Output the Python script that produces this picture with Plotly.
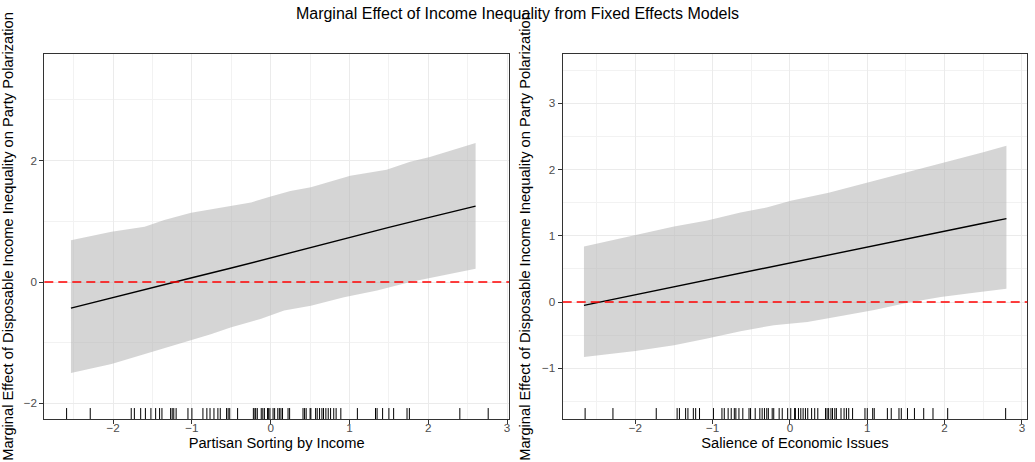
import plotly.graph_objects as go

# ---------------- data ----------------
title_text = "Marginal Effect of Income Inequality from Fixed Effects Models"
y_title = "Marginal Effect of Disposable Income Inequality on Party Polarization"
left_x_title = "Partisan Sorting by Income"
right_x_title = "Salience of Economic Issues"

# Left panel: Partisan Sorting by Income
left_fit_x = [-2.535, -2.0, -1.5, -1.0, -0.5, 0.0, 0.5, 1.0, 1.5, 2.0, 2.6]
left_fit = [-0.43, -0.26, -0.09, 0.07, 0.23, 0.40, 0.57, 0.73, 0.90, 1.06, 1.25]
left_upper_x = [-2.535, -2.02, -1.60, -1.35, -1.01, -0.63, -0.25, 0.0, 0.25,
                0.51, 0.76, 1.01, 1.47, 1.77, 2.02, 2.36, 2.60]
left_upper = [0.69, 0.83, 0.91, 1.02, 1.14, 1.23, 1.31, 1.41, 1.50,
              1.56, 1.65, 1.75, 1.85, 1.98, 2.06, 2.20, 2.29]
left_lower_x = [-2.535, -2.02, -1.60, -1.18, -0.76, -0.51, -0.13, 0.17, 0.51,
                0.93, 1.35, 1.77, 2.19, 2.60]
left_lower = [-1.50, -1.35, -1.19, -1.02, -0.86, -0.75, -0.61, -0.47, -0.39,
              -0.25, -0.14, 0.0, 0.11, 0.22]
left_rug = [-2.59, -2.29, -1.77, -1.73, -1.65, -1.59, -1.52, -1.46, -1.41, -1.38,
            -1.27, -1.25, -1.23, -1.20, -1.05, -1.00, -0.86, -0.81, -0.77, -0.72,
            -0.67, -0.64, -0.56, -0.54, -0.52, -0.42, -0.22, -0.20, -0.19, -0.17,
            -0.12, -0.10, -0.08, -0.04, -0.03, -0.01, 0.03, 0.05, 0.09, 0.11,
            0.13, 0.15, 0.22, 0.24, 0.41, 0.43, 0.45, 0.50, 0.51, 0.57,
            0.59, 0.62, 0.65, 0.67, 0.70, 0.73, 0.76, 0.80, 0.83, 0.89,
            1.10, 1.33, 1.35, 1.42, 1.50, 1.56, 1.73, 1.76, 2.40, 2.76]

# Right panel: Salience of Economic Issues
right_fit_x = [-2.665, -2.0, -1.5, -1.0, -0.5, 0.0, 0.5, 1.0, 1.5, 2.0, 2.5, 2.80]
right_fit = [-0.05, 0.11, 0.23, 0.35, 0.47, 0.60, 0.72, 0.84, 0.96, 1.08, 1.19, 1.26]
right_upper_x = [-2.665, -2.06, -1.50, -1.07, -0.64, -0.29, 0.01, 0.5, 1.0,
                 1.5, 2.0, 2.5, 2.80]
right_upper = [0.84, 0.99, 1.14, 1.23, 1.35, 1.43, 1.53, 1.65, 1.80,
               1.95, 2.10, 2.26, 2.36]
right_lower_x = [-2.665, -2.0, -1.5, -1.07, -0.64, -0.21, 0.225, 0.66, 1.09,
                 1.52, 1.95, 2.38, 2.80]
right_lower = [-0.83, -0.74, -0.65, -0.55, -0.44, -0.35, -0.30, -0.21, -0.12,
               -0.01, 0.075, 0.14, 0.20]
right_rug = [-2.65, -2.29, -1.73, -1.46, -1.43, -1.35, -1.32, -1.25, -1.22, -1.17,
             -0.99, -0.88, -0.85, -0.80, -0.76, -0.72, -0.70, -0.66, -0.61, -0.53,
             -0.51, -0.45, -0.39, -0.36, -0.33, -0.30, -0.28, -0.23, -0.21, -0.14,
             -0.10, -0.03, 0.01, 0.06, 0.07, 0.11, 0.14, 0.17, 0.20, 0.23,
             0.28, 0.32, 0.36, 0.46, 0.48, 0.50, 0.53, 0.55, 0.58, 0.60,
             0.66, 0.70, 0.73, 0.76, 0.81, 0.97, 1.00, 1.07, 1.09, 1.26,
             1.31, 1.41, 1.44, 1.52, 1.61, 1.73, 1.85, 2.04, 2.79]

# ---------------- figure ----------------
W, H = 1035, 462
FONT = "Liberation Sans, Arial, Helvetica, sans-serif"
RIBBON = "rgba(179,179,179,0.55)"

fig = go.Figure()


def add_panel(fx, fy, ux, uy, lx, ly, xa, ya):
    fig.add_trace(go.Scatter(
        x=ux + lx[::-1], y=uy + ly[::-1], fill="toself",
        fillcolor=RIBBON, line=dict(width=0), mode="lines",
        hoverinfo="skip", showlegend=False, xaxis=xa, yaxis=ya))
    fig.add_trace(go.Scatter(
        x=fx, y=fy, mode="lines", line=dict(color="black", width=1.4),
        showlegend=False, xaxis=xa, yaxis=ya))


add_panel(left_fit_x, left_fit, left_upper_x, left_upper,
          left_lower_x, left_lower, "x", "y")
add_panel(right_fit_x, right_fit, right_upper_x, right_upper,
          right_lower_x, right_lower, "x2", "y2")

shapes = []
for xa, ya in (("x", "y"), ("x2", "y2")):
    shapes.append(dict(type="line", xref=f"{xa} domain", yref=ya,
                       x0=0, x1=1, y0=0, y1=0,
                       line=dict(color="red", width=1.6, dash="9px,5px"),
                       layer="above"))
for xa, rug in (("x", left_rug), ("x2", right_rug)):
    ya = "y" if xa == "x" else "y2"
    for v in rug:
        shapes.append(dict(type="line", xref=xa, yref=f"{ya} domain",
                           x0=v, x1=v, y0=0, y1=0.03,
                           line=dict(color="black", width=1)))

GRID = "#EBEBEB"
TICKFONT = dict(family=FONT, size=11.7, color="#4D4D4D")
TITLEFONT = dict(family=FONT, size=14.67, color="black")

ydom = [(H - 419) / H, (H - 54) / H]


def axis_common(rng, dtick, minor_dtick, domain, anchor, title, standoff,
                label_standoff=0):
    return dict(
        domain=domain, range=rng, anchor=anchor, dtick=dtick, tick0=0,
        showgrid=True, gridcolor=GRID, gridwidth=1,
        minor=dict(dtick=minor_dtick, tick0=0, showgrid=True,
                   gridcolor="#F2F2F2", gridwidth=1, ticks=""),
        zeroline=False, showline=True, mirror=True,
        linecolor="#333333", linewidth=1,
        ticks="outside", ticklen=4, tickwidth=1, tickcolor="#333333",
        tickfont=TICKFONT, ticklabelstandoff=label_standoff,
        title=dict(text=title, font=TITLEFONT, standoff=standoff),
    )


fig.update_layout(
    width=W, height=H,
    margin=dict(l=0, r=0, t=0, b=0),
    paper_bgcolor="white", plot_bgcolor="white",
    font=dict(family=FONT),
    title=dict(text=title_text, font=dict(family=FONT, size=16, color="black"),
               x=0.5, xanchor="center", xref="paper",
               y=1 - 13 / H, yref="container", yanchor="middle"),
    xaxis=axis_common([-2.873, 3.024], 1, 0.5, [44.3 / W, 509 / W], "y",
                      left_x_title, 4, -6),
    yaxis=axis_common([-2.258, 3.758], 2, 1, ydom, "x", y_title, 7),
    xaxis2=axis_common([-2.94, 3.07], 1, 0.5, [562.7 / W, 1027.3 / W], "y2",
                       right_x_title, 4, -6),
    yaxis2=axis_common([-1.765, 3.744], 1, 0.5, ydom, "x2", y_title, 7),
    shapes=shapes,
    showlegend=False,
)

fig.write_html("out.html")
